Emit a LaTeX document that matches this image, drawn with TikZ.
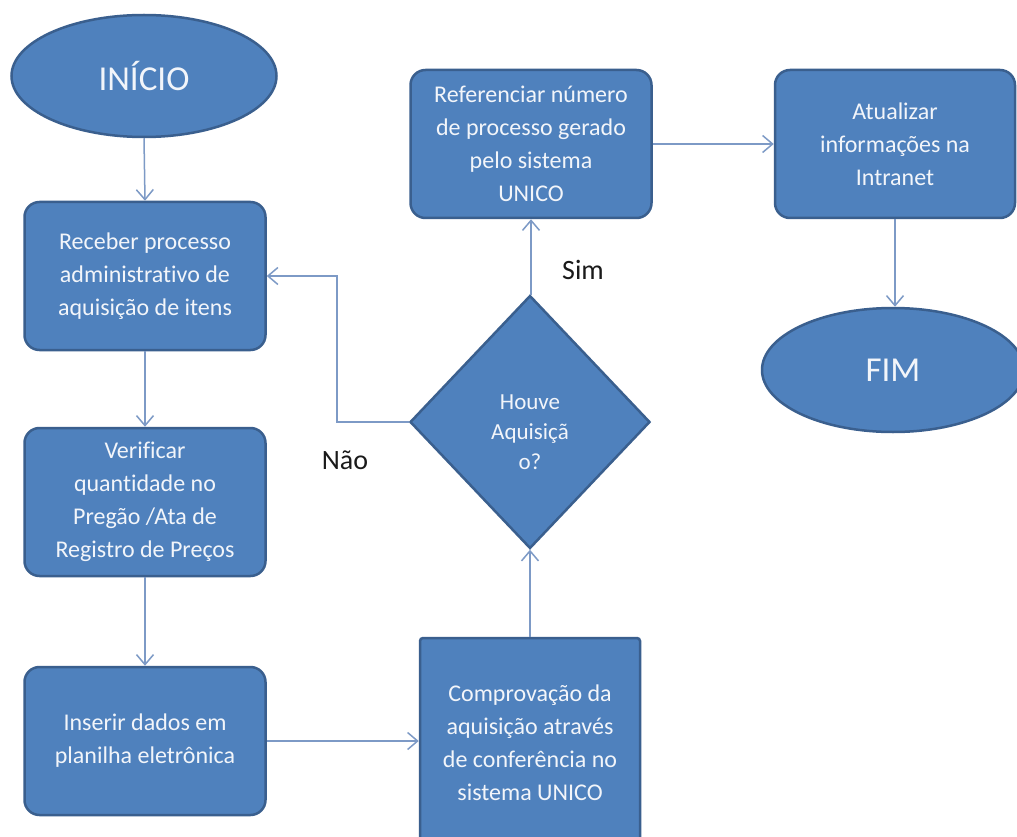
\documentclass[tikz,border=0pt]{standalone}
\usepackage{fontspec}
\setmainfont{Carlito}[Ligatures=NoCommon]
\usetikzlibrary{shapes.geometric,arrows.meta}
\definecolor{boxfill}{HTML}{4F81BD}
\definecolor{boxline}{HTML}{3A5F8E}
\definecolor{arrowcol}{HTML}{7D9AC6}
\definecolor{boxtext}{HTML}{F2F5FA}
\definecolor{labeltext}{HTML}{1A1A1A}
\tikzset{
  base/.style={fill=boxfill, draw=boxline, line width=2.5pt, text=boxtext, align=center, inner sep=0pt},
  roundbox/.style={base, rectangle, rounded corners=15pt, minimum width=241pt, minimum height=148pt, font=\fontsize{24}{33}\selectfont},
  squarebox/.style={base, rectangle, rounded corners=3pt, minimum width=220pt, minimum height=210pt, font=\fontsize{24}{33}\selectfont},
  terminal/.style={base, ellipse, font=\fontsize{35}{40}\selectfont},
  decision/.style={base, diamond, minimum width=240pt, minimum height=253pt},
  decisiontext/.style={text=boxtext, align=center, inner sep=0pt, font=\fontsize{23}{30}\selectfont},
  flow/.style={draw=arrowcol, line width=1.5pt, -{Straight Barb[length=10pt,width=17pt,line width=1.5pt]}},
  answer/.style={text=labeltext, font=\fontsize{28}{30}\selectfont, inner sep=0pt}
}
\begin{document}
\begin{tikzpicture}[x=1pt,y=-1pt]
\useasboundingbox (0,0) rectangle (1017,837);
\clip (0,0) rectangle (1017,837);
\fill[white] (0,0) rectangle (1017,837);
\node[terminal, minimum width=265pt, minimum height=122pt] (inicio) at (144,76) {INÍCIO};
\node[roundbox] (receber) at (145,276) {Receber processo\\administrativo de\\aquisição de itens};
\node[roundbox] (verificar) at (145,502) {Verificar\\quantidade no\\Pregão /Ata de\\Registro de Preços};
\node[roundbox] (inserir) at (145,741) {Inserir dados em\\planilha eletrônica};
\node[squarebox] (comprov) at (530,743) {Comprovação da\\aquisição através\\de conferência no\\sistema UNICO};
\node[decision] (houve) at (530,422) {};
\node[decisiontext] (houvetext) at (530,432) {Houve\\Aquisiçã\\o?};
\node[roundbox] (refer) at (531,144) {Referenciar número\\de processo gerado\\pelo sistema\\UNICO};
\node[roundbox, minimum width=240pt] (atual) at (895,144) {Atualizar\\informações na\\Intranet};
\node[terminal, minimum width=262pt, minimum height=124pt] (fim) at (893,370) {FIM};
\node[answer] (sim) at (583,270) {Sim};
\node[answer] (nao) at (345,460) {Não};
\coordinate (corner1) at (337,422);
\coordinate (corner2) at (337,276);
\draw[flow] (inicio.south) -- (receber.north);
\draw[flow] (receber.south) -- (verificar.north);
\draw[flow] (verificar.south) -- (inserir.north);
\draw[flow] (inserir.east) -- (inserir.east -| comprov.west);
\draw[flow] (comprov.north) -- (houve.south);
\draw[flow] (houve.north) -- (houve.north -| refer.south) -- (refer.south);
\draw[flow] (refer.east) -- (atual.west);
\draw[flow] (atual.south) -- (atual.south |- fim.north);
\draw[flow] (houve.west) -- (corner1) -- (corner2) -- (receber.east);
\end{tikzpicture}
\end{document}
